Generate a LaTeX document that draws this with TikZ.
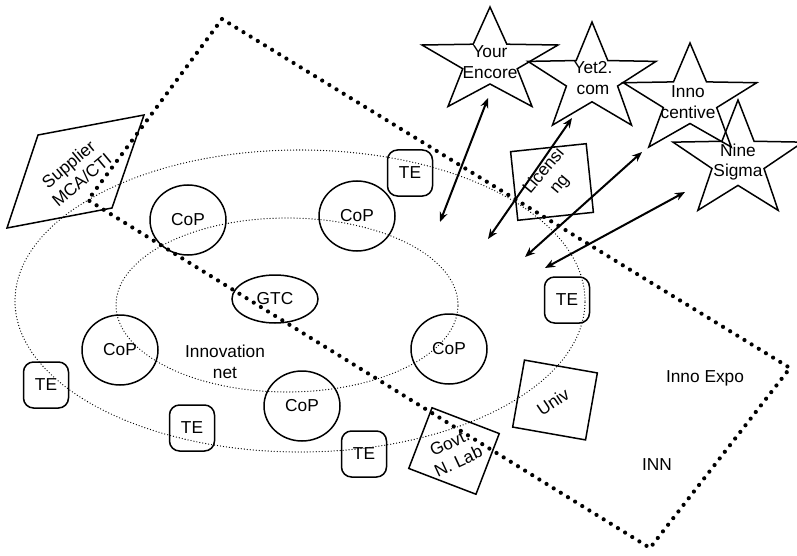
\documentclass[tikz,border=0pt]{standalone}
\usepackage{fontspec}
\setmainfont{Liberation Sans}
\usetikzlibrary{shapes.geometric,arrows.meta}
\begin{document}
\begin{tikzpicture}[x=1pt,y=-1pt,
  every node/.style={font=\fontsize{17.3}{20.5}\selectfont, align=center, inner sep=0pt},
  shapeline/.style={draw, line width=1.5pt},
  cop/.style={shapeline, ellipse, minimum width=76pt, minimum height=70pt},
  tebox/.style={shapeline, rounded corners=10pt, minimum width=45pt, minimum height=46pt},
  bigdots/.style={line width=4.2pt, line cap=round, dash pattern=on 0pt off 8.4pt},
  smalldots/.style={line width=1.3pt, line cap=round, dash pattern=on 0pt off 3pt},
  starline/.style={line width=1.5pt, line join=miter},
  dblarrow/.style={line width=2pt, {Stealth[length=10pt,width=8pt]}-{Stealth[length=10pt,width=8pt]}},
]
\useasboundingbox (0,0) rectangle (797,556);

% dotted ellipses
\draw[smalldots] (300,301) ellipse [x radius=285pt, y radius=151pt];
\draw[smalldots] (287,305) ellipse [x radius=171pt, y radius=87pt];

% big dotted rectangle
\coordinate (rT) at (222,19);
\coordinate (rR) at (790,368);
\coordinate (rB) at (650,548);
\coordinate (rL) at (88,200);
\draw[bigdots] (rT) -- (rR) -- (rB) -- (rL) -- cycle;

% communities of practice
\node[cop] (cop1) at (188,220) {CoP};
\node[cop] (cop2) at (357,216) {CoP};
\node[cop] (cop3) at (120,350) {CoP};
\node[cop] (cop4) at (302,406) {CoP};
\node[cop] (cop5) at (449,349) {CoP};
\node[shapeline, ellipse, minimum width=86pt, minimum height=48pt] (gtc) at (275,299) {GTC};
\node (innonet) at (225,362) {Innovation\\net};

% TE boxes
\node[tebox] (te1) at (410,173) {TE};
\node[tebox] (te2) at (567,300) {TE};
\node[tebox] (te3) at (46,385) {TE};
\node[tebox] (te4) at (192,428) {TE};
\node[tebox] (te5) at (364,454) {TE};

% supplier parallelogram
\draw[shapeline] (38,135) -- (144,115) -- (112,208) -- (7,228) -- cycle;
\node[rotate=40] (supplier) at (75,172) {Supplier\\MCA/CTI};

% rotated boxes
\node[shapeline, rotate=6, minimum width=76pt, minimum height=69pt] (lic) at (552,182) {};
\node[rotate=50] (lictxt) at (552,178) {Licensi\\ng};
\node[shapeline, rotate=-10, minimum width=74pt, minimum height=68pt] (univ) at (555,400) {};
\node[rotate=34] (univtxt) at (553,402) {Univ};
\node[shapeline, rotate=-21, minimum width=72pt, minimum height=65pt] (govt) at (454,451) {};
\node[rotate=25] (govttxt) at (454,452) {Govt.\\N. Lab};

% stars
\foreach \cx/\cy/\R/\sx in {490/62/55/1.3, 592/79/57/1.18, 690/100.5/57.5/1.22, 738/161/61/1.12}{
  \draw[starline] plot[samples at={0,...,9}]
    ({\cx+\sx*\R*(0.7+0.3*cos(180*\x))*cos(90+36*\x)},
     {\cy-\R*(0.7+0.3*cos(180*\x))*sin(90+36*\x)}) -- cycle;
}
\node (yourencore) at (490,62) {Your\\Encore};
\node (yet2) at (593,78) {Yet2.\\com};
\node (innocentive) at (688,102) {Inno\\centive};
\node (ninesigma) at (738,162) {Nine\\Sigma};

% arrows
\coordinate (a1s) at (488,98);  \coordinate (a1e) at (440,222);
\coordinate (a2s) at (572,118); \coordinate (a2e) at (488,239);
\coordinate (a3s) at (642,152); \coordinate (a3e) at (525,257);
\coordinate (a4s) at (685,192); \coordinate (a4e) at (545,268);
\draw[dblarrow] (a1s) -- (a1e);
\draw[dblarrow] (a2s) -- (a2e);
\draw[dblarrow] (a3s) -- (a3e);
\draw[dblarrow] (a4s) -- (a4e);

% labels
\node (innoexpo) at (705,378) {Inno Expo};
\node (inn) at (657,465) {INN};
\end{tikzpicture}
\end{document}
